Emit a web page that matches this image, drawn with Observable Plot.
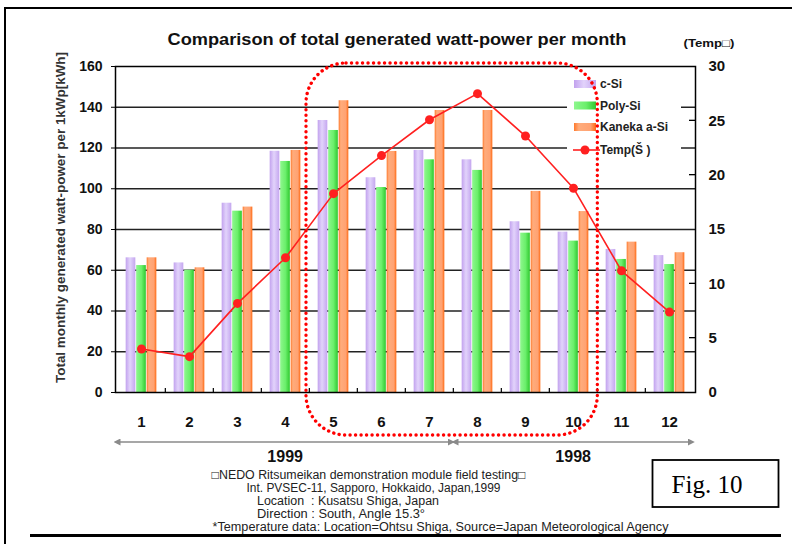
<!DOCTYPE html>
<html>
<head>
<meta charset="utf-8">
<script src="https://cdn.jsdelivr.net/npm/d3@7"></script>
<script src="https://cdn.jsdelivr.net/npm/@observablehq/plot@0.6"></script>
<style>
  html, body { margin: 0; padding: 0; background: #fff; }
  #chart svg { display: block; }
</style>
</head>
<body>
<div id="chart"></div>
<script>
// ---- data ----
const months = [1, 2, 3, 4, 5, 6, 7, 8, 9, 10, 11, 12];
const cSi    = [66.1, 63.6, 92.9, 118.4, 133.5, 105.4, 118.8, 114.2, 83.8, 78.7, 70.2, 67.2];
const polySi = [62.3, 60.0, 89.0, 113.4, 128.6, 100.6, 114.2, 109.0, 78.2, 74.3, 65.3, 62.8];
const kaneka = [66.1, 61.2, 91.0, 118.8, 143.2, 118.3, 138.4, 138.4, 98.7, 88.8, 73.8, 68.6];
const temp   = [4.0, 3.3, 8.2, 12.4, 18.3, 21.8, 25.1, 27.5, 23.6, 18.8, 11.2, 7.4];
const leftTicks  = [0, 20, 40, 60, 80, 100, 120, 140, 160];
const rightTicks = [0, 5, 10, 15, 20, 25, 30];
const seriesNames = ["c-Si", "Poly-Si", "Kaneka a-Si", "Temp(Š )"];
const years = [
  {label: "1999", from: 1, to: 7},
  {label: "1998", from: 8, to: 12}
];
const highlight = {from: 5, to: 10};
const titleText = "Comparison of total generated watt-power per month";
const yLabel = "Total monthly generated watt-power per 1kWp[kWh]";
const y2Label = "(Temp□)";
const notes = [
  "□NEDO Ritsumeikan demonstration module field testing□",
  "Int. PVSEC-11, Sapporo, Hokkaido, Japan,1999",
  "Location  : Kusatsu Shiga, Japan",
  "Direction : South, Angle 15.3°",
  "*Temperature data: Location=Ohtsu Shiga, Source=Japan Meteorological Agency"
];
const figLabel = "Fig. 10";

// ---- layout ----
const W = 792, H = 544;
const mL = 115, mR = 97, mT = 66, mB = 152;
const bw = (W - mL - mR) / months.length;
const barW = 10;
const ins = (bw - barW) / 2;
const TMAX = 30, YMAX = 160;
const k = YMAX / TMAX; // temperature -> left-axis units
const red = "#ff2020";
const font = "'Liberation Sans', Arial, sans-serif";

const chart = Plot.plot({
  width: W, height: H,
  marginLeft: mL, marginRight: mR, marginTop: mT, marginBottom: mB,
  style: {fontFamily: font, color: "#111", background: "transparent"},
  x: {type: "band", domain: months, padding: 0, axis: null},
  y: {domain: [0, YMAX], axis: null},
  marks: [
    Plot.gridY(leftTicks.filter(d => d > 0 && d < YMAX), {stroke: "#222", strokeOpacity: 1, strokeWidth: 1.5}),
    Plot.barY(months, {x: d => d, y: (d, i) => cSi[i], fill: "url(#g-csi)", dx: -10.5, insetLeft: ins, insetRight: ins}),
    Plot.barY(months, {x: d => d, y: (d, i) => polySi[i], fill: "url(#g-poly)", dx: 0, insetLeft: ins, insetRight: ins}),
    Plot.barY(months, {x: d => d, y: (d, i) => kaneka[i], fill: "url(#g-kan)", dx: 10.5, insetLeft: ins, insetRight: ins}),
    Plot.line(months, {x: d => d, y: (d, i) => temp[i] * k, stroke: red, strokeWidth: 1.6}),
    Plot.dot(months, {x: d => d, y: (d, i) => temp[i] * k, r: 4.5, fill: red, stroke: "none"}),
    Plot.frame({stroke: "#000", strokeWidth: 1.5}),
    Plot.axisY(leftTicks, {anchor: "left", tickSize: 4, tickPadding: 9, fontSize: 14, fontWeight: "bold", label: null, stroke: "#000"}),
    Plot.axisY(rightTicks.map(t => t * k), {anchor: "right", tickSize: 0, tickPadding: 13, tickFormat: v => String(Math.round(v / k)), fontSize: 15, fontWeight: "bold", label: null}),
    Plot.axisX(months, {anchor: "bottom", tickSize: 0, tickPadding: 24, fontSize: 15, fontWeight: "bold", label: null})
  ]
});

document.getElementById("chart").appendChild(chart);

// ---- decorations using the plot's own scales ----
const svg = d3.select(chart);
const xs = chart.scale("x");
const ys = chart.scale("y");
const xStart = m => xs.apply(m);
const xEnd = m => xs.apply(m) + bw;
const yPix = v => ys.apply(v);
const x0 = xs.range[0], x1 = xs.range[1];
const yTop = yPix(YMAX), yBot = yPix(0);

// gradients
const defs = svg.insert("defs", ":first-child");
function grad(id, stops) {
  const g = defs.append("linearGradient").attr("id", id).attr("x1", "0").attr("x2", "1").attr("y1", "0").attr("y2", "0");
  stops.forEach(([o, c]) => g.append("stop").attr("offset", o).attr("stop-color", c));
}
grad("g-csi", [[0, "#c2a2ee"], [0.45, "#e2d3fb"], [1, "#c4a6ef"]]);
grad("g-poly", [[0, "#8ef78e"], [0.55, "#6bef6b"], [1, "#30c830"]]);
grad("g-kan", [[0, "#ff7a2c"], [0.22, "#ffac7c"], [0.75, "#ffa272"], [1, "#ff6a12"]]);

// arrow markers
const mk = (id, path) => defs.append("marker").attr("id", id).attr("viewBox", "0 0 10 10")
  .attr("refX", 5).attr("refY", 5).attr("markerWidth", 7).attr("markerHeight", 7)
  .attr("markerUnits", "userSpaceOnUse").attr("orient", "auto")
  .append("path").attr("d", path).attr("fill", "#8a8a8a");
mk("arrEnd", "M0,0L10,5L0,10z");
mk("arrStart", "M10,0L0,5L10,10z");

const deco = svg.append("g").attr("text-anchor", "start");

// right axis inward ticks
rightTicks.filter(t => t > 0 && t < TMAX && t !== 15).forEach(t => {
  deco.append("line").attr("x1", x1 - 6).attr("x2", x1).attr("y1", yPix(t * k)).attr("y2", yPix(t * k))
    .attr("stroke", "#000").attr("stroke-width", 1.3);
});
// bottom band-boundary ticks
months.slice(0, -1).forEach(m => {
  deco.append("line").attr("x1", xEnd(m)).attr("x2", xEnd(m)).attr("y1", yBot).attr("y2", yBot - 4)
    .attr("stroke", "#000").attr("stroke-width", 1.2);
});

// year arrows and labels
const arrowY = yBot + 50;
years.forEach((yr, i) => {
  const a = xStart(yr.from) + (i === 0 ? 0 : 2);
  const b = xEnd(yr.to) - 2;
  deco.append("line").attr("x1", a).attr("x2", b).attr("y1", arrowY).attr("y2", arrowY)
    .attr("stroke", "#8a8a8a").attr("stroke-width", 1.6)
    .attr("marker-start", "url(#arrStart)").attr("marker-end", "url(#arrEnd)");
  deco.append("text").attr("x", (xStart(yr.from) + xEnd(yr.to)) / 2).attr("y", arrowY + 14.5)
    .attr("text-anchor", "middle").attr("dominant-baseline", "central")
    .attr("font-family", font).attr("font-weight", "bold").attr("font-size", 16).attr("fill", "#111")
    .text(yr.label);
});

// title & axis titles
deco.append("text").attr("x", 397).attr("y", 39).attr("text-anchor", "middle").attr("dominant-baseline", "central")
  .attr("font-family", font).attr("font-weight", "bold").attr("font-size", 17).attr("fill", "#111")
  .attr("textLength", 459).attr("lengthAdjust", "spacingAndGlyphs").text(titleText);
deco.append("text").attr("x", 709).attr("y", 43).attr("text-anchor", "middle").attr("dominant-baseline", "central")
  .attr("font-family", font).attr("font-weight", "bold").attr("font-size", 11).attr("fill", "#111")
  .attr("textLength", 51).attr("lengthAdjust", "spacingAndGlyphs").text(y2Label);
deco.append("text").attr("transform", `translate(60.5,${(52 + 383) / 2}) rotate(-90)`)
  .attr("text-anchor", "middle").attr("dominant-baseline", "central")
  .attr("font-family", font).attr("font-weight", "bold").attr("font-size", 12).attr("fill", "#333")
  .attr("textLength", 331).attr("lengthAdjust", "spacingAndGlyphs").text(yLabel);

// notes
const notePos = [[211.5, 475, 314], [246.5, 488.3, 254], [257, 501, 182], [257, 514, 168], [212.5, 527.3, 456]];
notes.forEach((t, i) => {
  const [x, y, len] = notePos[i];
  deco.append("text").attr("x", x).attr("y", y).attr("text-anchor", "start").attr("dominant-baseline", "central")
    .attr("font-family", font).attr("font-size", 12).attr("fill", "#222")
    .attr("textLength", len).attr("lengthAdjust", "spacingAndGlyphs").text(t);
});

// Fig. 10 box
deco.append("rect").attr("x", 652.5).attr("y", 460).attr("width", 126).attr("height", 47)
  .attr("fill", "#fff").attr("stroke", "#000").attr("stroke-width", 1.8);
deco.append("text").attr("x", 707).attr("y", 493).attr("text-anchor", "middle")
  .attr("font-family", "'Liberation Serif', 'Times New Roman', serif").attr("font-size", 25).attr("fill", "#000")
  .text(figLabel);

// page frame
deco.append("path").attr("d", `M5,${H}V8H${W}`).attr("fill", "none").attr("stroke", "#000").attr("stroke-width", 2);
deco.append("line").attr("x1", 30).attr("x2", 781).attr("y1", 535.5).attr("y2", 535.5).attr("stroke", "#000").attr("stroke-width", 3);

// legend
const lg = deco.append("g");
lg.append("rect").attr("x", 567).attr("y", 68).attr("width", 114).attr("height", 94).attr("fill", "#fff");
const legY = [84, 105.5, 127, 150];
const fills = ["url(#g-csi)", "url(#g-poly)", "url(#g-kan)"];
seriesNames.forEach((name, i) => {
  const y = legY[i];
  if (i < 3) {
    lg.append("rect").attr("x", 574).attr("y", y - 4).attr("width", 22).attr("height", 8).attr("fill", fills[i]);
  } else {
    lg.append("line").attr("x1", 573).attr("x2", 600).attr("y1", y).attr("y2", y).attr("stroke", red).attr("stroke-width", 1.6);
    lg.append("circle").attr("cx", 585).attr("cy", y).attr("r", 4.5).attr("fill", red);
  }
  lg.append("text").attr("x", 600).attr("y", y).attr("text-anchor", "start").attr("dominant-baseline", "central")
    .attr("font-family", font).attr("font-weight", "bold").attr("font-size", 12).attr("fill", "#222")
    .text(name);
});

// red dotted highlight (months 5..10)
const hx0 = xStart(highlight.from) - 3, hx1 = xEnd(highlight.to);
const hy0 = yTop - 3, hy1 = yBot + 43;
deco.append("rect").attr("x", hx0).attr("y", hy0).attr("width", hx1 - hx0).attr("height", hy1 - hy0)
  .attr("rx", 40).attr("ry", 40).attr("fill", "none").attr("stroke", "#ff0000").attr("stroke-width", 3.4)
  .attr("stroke-dasharray", "0.1 5.4").attr("stroke-linecap", "round");
</script>
</body>
</html>
